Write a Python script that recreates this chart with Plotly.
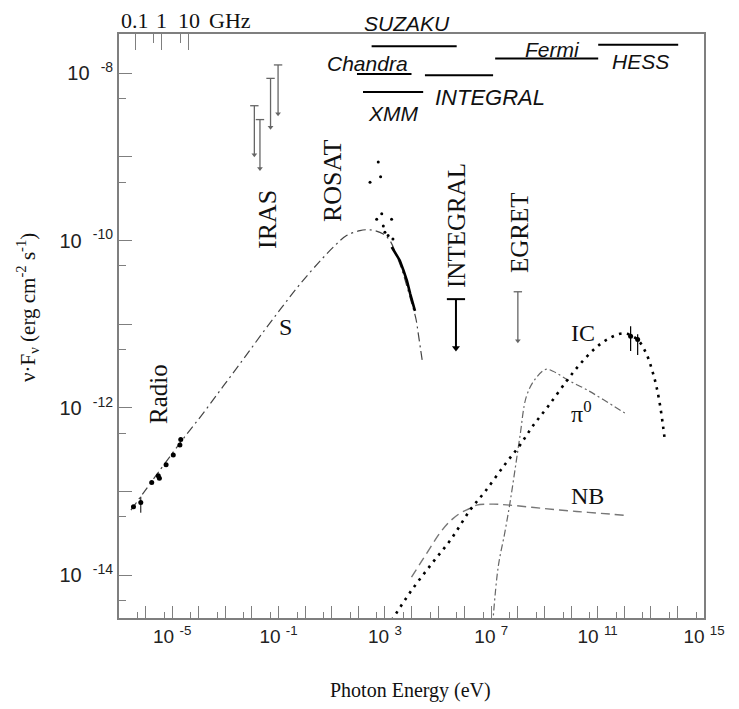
import plotly.graph_objects as go

# ---------------- data (photon energy in eV, nuFnu in erg cm^-2 s^-1) ----------------
radio_e = [3.5e-7, 6.6e-7, 1.7e-6, 3.0e-6, 3.3e-6, 5.9e-6, 1.1e-5, 1.95e-5, 2.1e-5]
radio_f = [6.6e-14, 7.4e-14, 1.29e-13, 1.55e-13, 1.45e-13, 2.1e-13, 2.75e-13, 3.6e-13, 4.2e-13]
radio_err_plus = [0, 1.3e-14, 0, 0, 0, 0, 0, 0, 0]
radio_err_minus = [0, 1.8e-14, 0, 0, 0, 0, 0, 0, 0]

sync_e = [2.8e-7, 1.95e-5, 1.48e-4, 8.3e-4, 4.1e-3, 0.023, 0.13, 0.63, 4.2, 15, 36, 115,
          204, 417, 870, 1550, 2750, 4270, 6600, 1.0e4, 1.48e4, 1.78e4, 2.2e4, 2.6e4]
sync_f = [6.0e-14, 3.8e-13, 8.7e-13, 1.82e-12, 3.6e-12, 7.6e-12, 1.58e-11, 3.0e-11, 6.0e-11,
          9.1e-11, 1.15e-10, 1.32e-10, 1.35e-10, 1.32e-10, 1.20e-10, 1.0e-10, 6.6e-11, 4.6e-11,
          2.9e-11, 1.82e-11, 1.15e-11, 7.9e-12, 5.0e-12, 3.5e-12]

rosat_e = [562, 690, 275, 760, 490, 870, 1780, 1000, 1320, 2000]
rosat_f = [8.7e-10, 5.8e-10, 5.0e-10, 2.1e-10, 1.8e-10, 1.5e-10, 1.8e-10, 1.26e-10, 1.15e-10, 1.05e-10]

xray_e = [1800, 2300, 3630, 5000, 6760, 9000, 1.12e4, 1.35e4]
xray_f = [8.4e-11, 7.4e-11, 5.8e-11, 4.4e-11, 3.3e-11, 2.3e-11, 1.74e-11, 1.45e-11]

iras_e = [0.0123, 0.020, 0.050, 0.096]
iras_ul = [4.1e-9, 2.8e-9, 8.7e-9, 1.26e-8]

integral_e = [4.7e5]
integral_ul = [2.0e-11]
egret_e = [1.0e8]
egret_ul = [2.45e-11]

ic_e = [1800, 1.0e4, 5.8e4, 3.2e5, 1.58e6, 5.8e6, 3.2e7, 1.2e8, 3.8e8, 1.38e9, 6.8e9, 2.1e10,
        7.2e10, 2.3e11, 9.5e11, 3.1e12, 6.9e12, 1.15e13, 1.62e13, 2.2e13, 2.9e13, 3.4e13]
ic_f = [2.9e-15, 6.6e-15, 1.38e-14, 2.75e-14, 6.0e-14, 1.0e-13, 2.1e-13, 3.6e-13, 6.2e-13, 1.05e-12,
        2.1e-12, 3.3e-12, 5.0e-12, 6.6e-12, 7.8e-12, 6.6e-12, 4.4e-12, 2.75e-12, 1.82e-12, 1.1e-12,
        6.0e-13, 4.0e-13]

pi0_e = [1.12e7, 1.82e7, 3.2e7, 5.0e7, 7.8e7, 1.2e8, 2.1e8, 4.4e8, 1.12e9, 2.1e9, 8.9e9, 3.8e10,
         1.62e11, 1.05e12]
pi0_f = [2.5e-15, 1.26e-14, 3.2e-14, 7.2e-14, 1.82e-13, 4.6e-13, 1.38e-12, 2.2e-12, 2.9e-12,
         2.75e-12, 2.1e-12, 1.66e-12, 1.26e-12, 8.7e-13]

nb_e = [1.0e4, 2.1e4, 4.9e4, 1.17e5, 2.75e5, 6.6e5, 1.58e6, 2.8e6, 1.17e7, 5.0e7, 8.9e8, 1.62e10,
        2.9e11, 1.05e12]
nb_f = [9.5e-15, 1.38e-14, 2.1e-14, 3.2e-14, 4.4e-14, 5.5e-14, 6.3e-14, 6.9e-14, 7.1e-14, 6.9e-14,
        6.3e-14, 5.8e-14, 5.4e-14, 5.2e-14]

hess_e = [1.74e12, 3.2e12]
hess_f = [7.2e-12, 6.6e-12]
hess_err_plus = [2.3e-12, 1.0e-12]
hess_err_minus = [2.4e-12, 2.3e-12]

instr_names = ["SUZAKU", "Chandra", "XMM", "INTEGRAL", "Fermi", "HESS"]
instr_lo = [316, 89, 150, 3.2e4, 1.4e7, 1.05e11]
instr_hi = [5.0e5, 1.0e4, 2.75e4, 1.17e7, 1.05e11, 1.07e14]

ghz_vals = [0.1, 1, 10]
ghz_labels = ["0.1", "1", "10"]
ghz_minor = [0.5, 5]
H_EV = 4.1357e-15  # eV s

x_label_exp = [-5, -1, 3, 7, 11, 15]
y_label_exp = [-14, -12, -10, -8]

# ---------------- layout helpers (positions / styles) ----------------
bar_levels = [2.1e-8, 9.8e-9, 6.0e-9, 9.5e-9, 1.5e-8, 2.2e-8]
L, T, W, Hh = 119, 34, 585, 584


def P(xp, yp):
    return (xp - L) / W, (T + Hh - yp) / Hh


GRAY = '#7f7f7f'
SERIF = 'Liberation Serif, Times New Roman, serif'
SANS = 'Liberation Sans, Arial, sans-serif'

fig = go.Figure()


def ul(es, fs, color, width, cap, head, drop=0.26):
    xs, ys = [], []
    for e, f in zip(es, fs):
        xs += [e, e, None]
        ys += [f, f * drop, None]
    fig.add_trace(go.Scatter(x=xs, y=ys, mode='lines', line=dict(color=color, width=width),
                             hoverinfo='skip'))
    fig.add_trace(go.Scatter(x=es, y=fs, mode='markers',
                             marker=dict(symbol='line-ew', size=cap, line=dict(color=color, width=width))))
    fig.add_trace(go.Scatter(x=es, y=[f * drop for f in fs], mode='markers',
                             marker=dict(symbol='triangle-down', size=head, color=color)))


# model curves
fig.add_trace(go.Scatter(x=sync_e, y=sync_f, mode='lines', line_shape='spline',
                         line=dict(color='#444444', width=1.2, dash='9px,4px,2px,4px')))
fig.add_trace(go.Scatter(x=nb_e, y=nb_f, mode='lines', line_shape='spline',
                         line=dict(color='#777777', width=1.4, dash='9px,5px')))
fig.add_trace(go.Scatter(x=pi0_e, y=pi0_f, mode='lines', line_shape='spline',
                         line=dict(color='#666666', width=1.2, dash='7px,3px,2px,3px')))
fig.add_trace(go.Scatter(x=ic_e, y=ic_f, mode='lines', line_shape='spline',
                         line=dict(color='black', width=2.6, dash='2.6px,5.4px')))

# data
fig.add_trace(go.Scatter(x=xray_e, y=xray_f, mode='lines', line=dict(color='black', width=2.6)))
fig.add_trace(go.Scatter(x=rosat_e, y=rosat_f, mode='markers',
                         marker=dict(color='black', size=3)))
fig.add_trace(go.Scatter(x=radio_e, y=radio_f, mode='markers',
                         marker=dict(color='black', size=5),
                         error_y=dict(type='data', symmetric=False, array=radio_err_plus,
                                      arrayminus=radio_err_minus, width=0, thickness=1, color='black')))
fig.add_trace(go.Scatter(x=hess_e, y=hess_f, mode='markers',
                         marker=dict(color='black', size=5),
                         error_y=dict(type='data', symmetric=False, array=hess_err_plus,
                                      arrayminus=hess_err_minus, width=0, thickness=1.2, color='black')))

ul(iras_e, iras_ul, '#666666', 1.3, 6, 5)
ul(integral_e, integral_ul, 'black', 2.0, 13, 7)
ul(egret_e, egret_ul, '#666666', 1.3, 6, 5)

# instrument bars
bx, by = [], []
for lo, hi, lev in zip(instr_lo, instr_hi, bar_levels):
    bx += [lo, hi, None]
    by += [lev, lev, None]
fig.add_trace(go.Scatter(x=bx, y=by, mode='lines', line=dict(color='black', width=2)))

# invisible anchor traces for the extra tick axes
for xa, ya in (('x2', 'y'), ('x3', 'y'), ('x', 'y2')):
    fig.add_trace(go.Scatter(x=[1e-7, 1e15], y=[1e-14, 1e-14], xaxis=xa, yaxis=ya, mode='lines',
                             line=dict(width=0, color='rgba(0,0,0,0)'), hoverinfo='skip'))

# ---------------- axes ----------------
x_lab_vals = [10.0 ** k for k in x_label_exp]
x_lab_text = ["10\u00a0<sup>%d</sup>" % k for k in x_label_exp]
x_all = [10.0 ** k for k in range(-7, 16)]
x_minor = [5 * 10.0 ** k for k in range(-8, 15)]
y_lab_vals = [10.0 ** k for k in y_label_exp]
y_lab_text = ["10\u00a0\u00a0<sup>%d</sup>" % k for k in y_label_exp]
y_all = [10.0 ** k for k in range(-15, -6)]
y_minor = [5 * 10.0 ** k for k in range(-15, -7)]

tick_common = dict(ticks='inside', tickwidth=1.3, tickcolor=GRAY, showgrid=False, zeroline=False)

fig.update_layout(
    width=739, height=709,
    margin=dict(l=L, r=739 - L - W, t=T, b=709 - T - Hh),
    paper_bgcolor='white', plot_bgcolor='white', showlegend=False,
    xaxis=dict(type='log', range=[-7, 15], tickmode='array', tickvals=x_lab_vals, ticktext=x_lab_text,
               ticklen=12, showline=True, linecolor=GRAY, linewidth=1.8, mirror=True,
               tickfont=dict(family=SANS, size=19, color='#222'),
               minor=dict(tickvals=x_minor, ticks='inside', ticklen=6, tickwidth=1.3,
                          tickcolor=GRAY, showgrid=False), **tick_common),
    xaxis3=dict(type='log', range=[-7, 15], overlaying='x', side='bottom', anchor='y',
                tickmode='array', tickvals=x_all, ticklen=12, showticklabels=False,
                showline=False, **tick_common),
    xaxis2=dict(type='log', range=[-7, 15], overlaying='x', side='top', anchor='y',
                tickmode='array', tickvals=[v * 1e9 * H_EV for v in ghz_vals],
                ticklen=16, showticklabels=False, showline=False,
                minor=dict(tickvals=[v * 1e9 * H_EV for v in ghz_minor], ticks='inside',
                           ticklen=9, tickwidth=1.3, tickcolor=GRAY, showgrid=False), **tick_common),
    yaxis=dict(type='log', range=[-14.51, -7.53], tickmode='array', tickvals=y_lab_vals, ticktext=y_lab_text,
               ticklen=13, showline=True, linecolor=GRAY, linewidth=1.8, mirror=True,
               tickfont=dict(family=SANS, size=20, color='#222'),
               minor=dict(tickvals=y_minor, ticks='inside', ticklen=7, tickwidth=1.3,
                          tickcolor=GRAY, showgrid=False), **tick_common),
    yaxis2=dict(type='log', range=[-14.51, -7.53], overlaying='y', side='left', anchor='x',
                tickmode='array', tickvals=y_all, ticklen=13, showticklabels=False,
                showline=False, **tick_common),
)

# ---------------- text ----------------
ann = []


def text(xp, yp, s, size=24, family=SERIF, angle=0, xanchor='center'):
    px, py = P(xp, yp)
    ann.append(dict(x=px, y=py, xref='paper', yref='paper', text=s, showarrow=False,
                    textangle=angle, xanchor=xanchor, yanchor='middle',
                    font=dict(family=family, size=size, color='#111')))


text(158, 394, 'Radio', size=25, angle=-90)
text(267, 220, 'IRAS', size=26, angle=-90)
text(333, 181, 'ROSAT', size=26, angle=-90)
text(456, 226, 'INTEGRAL', size=25, angle=-90)
text(520, 233, 'EGRET', size=25, angle=-90)
text(285, 327, 'S')
text(583, 333, 'IC')
text(581, 412, '\u03c0<sup>0</sup>')
text(587, 496, 'NB')

label_pos = [(407, 23.5), (367, 63), (393.5, 113), (490, 97), (552, 49.5), (640, 62)]
label_size = [21, 21, 21, 22, 21, 21]
for name, (xp, yp), sz in zip(instr_names, label_pos, label_size):
    text(xp, yp, '<i>%s</i>' % name, size=sz, family=SANS)

# top (GHz) axis labels, centred on their tick energies
for v, lab in zip(ghz_vals, ghz_labels):
    import math
    xp = L + (math.log10(v * 1e9 * H_EV) + 7) / 22 * W
    text(xp, 20, lab, size=22)
text(230, 20, 'GHz', size=22)

text(410, 690, 'Photon Energy (eV)', size=20)
text(27, 308, '\u03bd\u00b7F<sub>\u03bd</sub> (erg cm<sup>-2</sup> s<sup>-1</sup>)', size=21, angle=-90)

fig.update_layout(annotations=ann)

fig.write_html("out.html")
